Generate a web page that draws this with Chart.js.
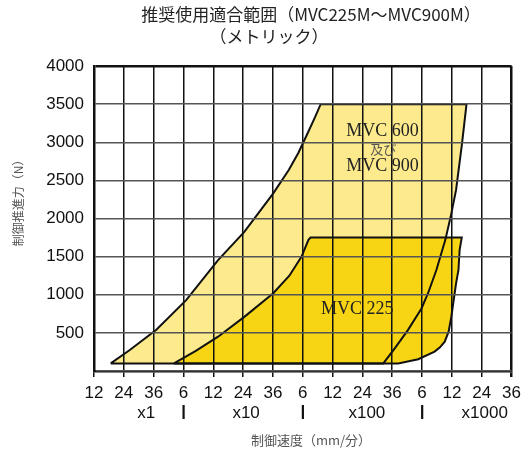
<!DOCTYPE html>
<html>
<head>
<meta charset="utf-8">
<script src="https://cdn.jsdelivr.net/npm/chart.js@4/dist/chart.umd.min.js"></script>
<style>
  body { margin: 0; background: #fff; }
  #wrap { position: relative; width: 527px; height: 451px; }
</style>
</head>
<body>
<div id="wrap"><canvas id="chart"></canvas></div>
<script>
// speed axis: evenly spaced positions 0..14, labelled per decade
var speedTicks = ['12','24','36','6','12','24','36','6','12','24','36','6','12','24','36'];
var decadeLabels = ['x1','x10','x100','x1000'];

// MVC 600 / MVC 900 range outline (x = speed position, y = thrust N)
var mvc900X = [0.56, 1.2, 2.09, 3.09, 4.16, 5.04, 6.01, 6.53, 6.85, 7.1, 7.4, 7.6, 12.49, 12.34, 12.14, 11.96, 11.78, 11.48, 11.2, 10.98, 10.53, 10.09, 9.7, 0.56];
var mvc900Y = [100, 275, 540, 930, 1455, 1825, 2330, 2635, 2860, 3065, 3320, 3500, 3500, 2985, 2375, 2025, 1720, 1325, 1020, 820, 540, 300, 100, 100];

// MVC 225 range outline
var mvc225X = [2.68, 3.4, 4.16, 5.04, 6.01, 6.55, 6.96, 7.19, 7.26, 12.33, 12.26, 12.22, 12.14, 11.98, 11.89, 11.76, 11.6, 11.42, 10.87, 10.2, 2.68];
var mvc225Y = [100, 260, 450, 710, 1020, 1250, 1500, 1720, 1750, 1750, 1590, 1325, 1150, 710, 515, 385, 310, 255, 155, 100, 100];

function toPoints(xs, ys) {
  return xs.map(function(x, i) { return {x: x, y: ys[i]}; });
}

var sans = '"Liberation Sans", Arial, sans-serif';
var jp = '"Noto Sans CJK JP", sans-serif';

// titles, axis names, decade row and area names
var textPlugin = {
  id: 'texts',
  afterDraw: function(chart) {
    var ctx = chart.ctx, xs = chart.scales.x, ys = chart.scales.y;
    ctx.save();
    ctx.textAlign = 'center';
    ctx.textBaseline = 'middle';

    ctx.fillStyle = '#222';
    ctx.font = '17px ' + jp;
    ctx.fillText('推奨使用適合範囲（MVC225M～MVC900M）', 311, 15);
    ctx.fillText('（メトリック）', 269, 37);

    // decade row under the tick labels
    ctx.fillStyle = '#111';
    ctx.font = '17px ' + sans;
    var decadeAt = [1.75, 5.1, 9.15, 13.1];
    decadeLabels.forEach(function(t, i) {
      ctx.fillText(t, xs.getPixelForValue(decadeAt[i]), 413);
    });
    [3, 7, 11].forEach(function(v) {
      ctx.fillRect(xs.getPixelForValue(v) - 1, 405, 2.2, 14);
    });

    ctx.fillStyle = '#555';
    ctx.font = '13px ' + jp;
    ctx.fillText('制御速度（mm/分）', 311, 440);

    ctx.save();
    ctx.translate(18, 200);
    ctx.rotate(-Math.PI / 2);
    ctx.font = '12px ' + jp;
    ctx.fillText('制御推進力（N）', 0, 0);
    ctx.restore();

    // area names
    ctx.fillStyle = '#222';
    ctx.font = '18px "Liberation Serif", serif';
    ctx.fillText('MVC 600', xs.getPixelForValue(9.67), ys.getPixelForValue(3150));
    ctx.fillText('MVC 900', xs.getPixelForValue(9.67), ys.getPixelForValue(2690));
    ctx.fillText('MVC 225', xs.getPixelForValue(8.83), ys.getPixelForValue(815));
    ctx.fillStyle = '#555';
    ctx.font = '13px ' + jp;
    ctx.fillText('及び', xs.getPixelForValue(9.7), ys.getPixelForValue(2910));
    ctx.restore();
  }
};

new Chart(document.getElementById('chart'), {
  type: 'line',
  data: {
    datasets: [
      {
        label: 'MVC 225',
        data: toPoints(mvc225X, mvc225Y),
        backgroundColor: '#F7D414',
        borderColor: '#111',
        borderWidth: 2,
        fill: 'shape',
        pointRadius: 0,
        tension: 0
      }, {
        label: 'MVC 600 / MVC 900',
        data: toPoints(mvc900X, mvc900Y),
        backgroundColor: '#FCEA8C',
        borderColor: '#111',
        borderWidth: 2,
        fill: 'shape',
        pointRadius: 0,
        tension: 0
      }
    ]
  },
  options: {
    responsive: true,
    maintainAspectRatio: false,
    animation: false,
    layout: { padding: { top: 66, right: 12, left: 0, bottom: 0 } },
    plugins: {
      legend: { display: false },
      tooltip: { enabled: false },
      filler: { drawTime: 'beforeDatasetsDraw' }
    },
    scales: {
      x: {
        type: 'linear',
        min: 0,
        max: 14,
        afterFit: function(s) { s.height = 80; },
        ticks: {
          stepSize: 1,
          autoSkip: false,
          maxRotation: 0,
          padding: 6,
          color: '#111',
          font: { size: 17, family: sans },
          callback: function(v) { return speedTicks[v]; }
        },
        grid: {
          color: '#111',
          lineWidth: function(c) { return c.index === 14 ? 2.5 : 1.5; },
          tickLength: 6,
          z: 1
        },
        border: { color: '#111', width: 2.5, z: 1 }
      },
      y: {
        min: 0,
        max: 4000,
        afterFit: function(s) { s.width = 94; },
        ticks: {
          stepSize: 500,
          padding: 10,
          color: '#111',
          font: { size: 17, family: sans },
          callback: function(v) { return v === 0 ? '' : String(v); }
        },
        grid: {
          color: function(c) { return c.tick && c.tick.value === 4000 ? '#111' : '#555'; },
          lineWidth: function(c) { return c.tick && c.tick.value === 4000 ? 2.5 : 1.5; },
          drawTicks: false,
          z: 1
        },
        border: { color: '#111', width: 2.5, z: 1 }
      }
    }
  },
  plugins: [textPlugin]
});
</script>
</body>
</html>
